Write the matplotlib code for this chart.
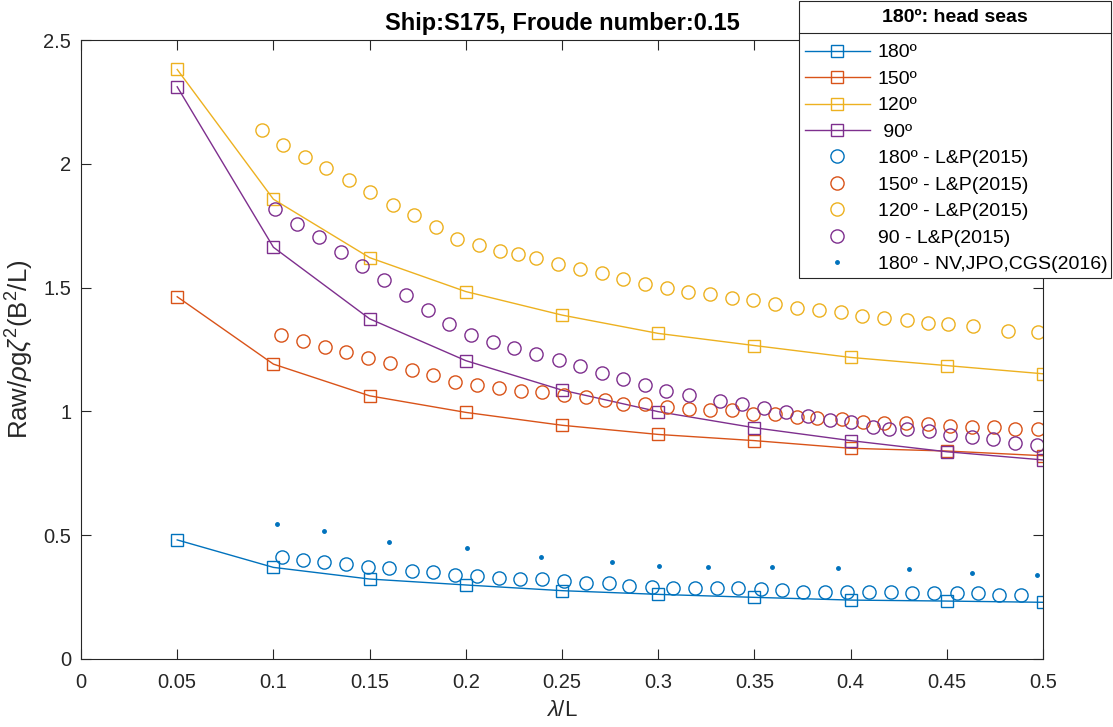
import matplotlib
matplotlib.use('Agg')
import matplotlib.pyplot as plt
from matplotlib.lines import Line2D
from matplotlib.patches import Rectangle

plt.rcParams['font.family'] = ['Liberation Sans', 'DejaVu Sans']
plt.rcParams['mathtext.fontset'] = 'custom'
plt.rcParams['mathtext.rm'] = 'Liberation Sans'
plt.rcParams['mathtext.it'] = 'Liberation Sans:italic'

# wave length ratio for the computed results
lam = [0.05, 0.1, 0.15, 0.2, 0.25, 0.3, 0.35, 0.4, 0.45, 0.5]
raw_180 = [0.481, 0.370, 0.323, 0.299, 0.276, 0.261, 0.249, 0.238, 0.234, 0.229]
raw_150 = [1.463, 1.191, 1.063, 0.996, 0.944, 0.907, 0.882, 0.851, 0.840, 0.821]
raw_120 = [2.381, 1.857, 1.621, 1.484, 1.389, 1.315, 1.266, 1.218, 1.185, 1.152]
raw_90 = [2.311, 1.663, 1.374, 1.205, 1.086, 0.999, 0.934, 0.882, 0.837, 0.804]

# L&P (2015)
lp180_x = [0.1043, 0.1152, 0.1265, 0.1377, 0.1493, 0.1602, 0.1719, 0.1831, 0.1944, 0.2057,
           0.2173, 0.2282, 0.2394, 0.2510, 0.2623, 0.2743, 0.2850, 0.2966, 0.3075, 0.3191,
           0.3304, 0.3416, 0.3533, 0.3642, 0.3754, 0.3867, 0.3983, 0.4094, 0.4208, 0.4321,
           0.4435, 0.4551, 0.4664, 0.4773, 0.4886]
lp180_y = [0.413, 0.400, 0.393, 0.384, 0.373, 0.366, 0.355, 0.350, 0.339, 0.336,
           0.326, 0.323, 0.323, 0.315, 0.306, 0.307, 0.296, 0.290, 0.288, 0.288,
           0.288, 0.288, 0.283, 0.279, 0.272, 0.272, 0.269, 0.272, 0.272, 0.268,
           0.265, 0.268, 0.265, 0.258, 0.258]

lp150_x = [0.1040, 0.1152, 0.1267, 0.1379, 0.1492, 0.1606, 0.1720, 0.1831, 0.1945, 0.2060,
           0.2174, 0.2285, 0.2396, 0.2511, 0.2627, 0.2723, 0.2819, 0.2932, 0.3044, 0.3159,
           0.3271, 0.3383, 0.3495, 0.3607, 0.3721, 0.3825, 0.3953, 0.4062, 0.4176, 0.4289,
           0.4401, 0.4518, 0.4632, 0.4744, 0.4856, 0.4972]
lp150_y = [1.309, 1.286, 1.261, 1.241, 1.214, 1.194, 1.167, 1.146, 1.120, 1.107,
           1.094, 1.084, 1.080, 1.066, 1.057, 1.045, 1.031, 1.029, 1.018, 1.011,
           1.004, 1.004, 0.991, 0.990, 0.979, 0.974, 0.968, 0.957, 0.955, 0.952,
           0.948, 0.943, 0.937, 0.935, 0.930, 0.928]

lp120_x = [0.0942, 0.1050, 0.1164, 0.1275, 0.1391, 0.1502, 0.1622, 0.1733, 0.1844, 0.1954,
           0.2067, 0.2178, 0.2271, 0.2367, 0.2479, 0.2594, 0.2706, 0.2819, 0.2931, 0.3044,
           0.3156, 0.3269, 0.3385, 0.3494, 0.3609, 0.3721, 0.3837, 0.3950, 0.4061, 0.4175,
           0.4292, 0.4401, 0.4508, 0.4638, 0.4820, 0.4976]
lp120_y = [2.135, 2.077, 2.027, 1.982, 1.935, 1.885, 1.835, 1.794, 1.746, 1.696,
           1.672, 1.649, 1.636, 1.618, 1.595, 1.576, 1.558, 1.534, 1.515, 1.497,
           1.483, 1.474, 1.457, 1.450, 1.434, 1.419, 1.410, 1.400, 1.385, 1.378,
           1.369, 1.358, 1.352, 1.346, 1.326, 1.319]

lp90_x = [0.1008, 0.1121, 0.1235, 0.1349, 0.1462, 0.1574, 0.1688, 0.1801, 0.1913, 0.2025,
          0.2140, 0.2252, 0.2365, 0.2484, 0.2595, 0.2706, 0.2819, 0.2931, 0.3043, 0.3159,
          0.3323, 0.3435, 0.3551, 0.3663, 0.3777, 0.3891, 0.4004, 0.4115, 0.4201, 0.4293,
          0.4405, 0.4519, 0.4630, 0.4741, 0.4857, 0.4969]
lp90_y = [1.816, 1.757, 1.703, 1.645, 1.586, 1.531, 1.471, 1.411, 1.354, 1.309,
          1.282, 1.256, 1.231, 1.206, 1.184, 1.154, 1.130, 1.105, 1.083, 1.067,
          1.044, 1.031, 1.013, 0.997, 0.981, 0.966, 0.956, 0.936, 0.928, 0.928,
          0.919, 0.905, 0.897, 0.887, 0.874, 0.863]

# NV, JPO, CGS (2016), head seas
nv_x = [0.1017, 0.1265, 0.1601, 0.2005, 0.2391, 0.2758, 0.3006, 0.3260, 0.3590, 0.3936,
        0.4305, 0.4629, 0.4970]
nv_y = [0.545, 0.516, 0.474, 0.450, 0.412, 0.392, 0.377, 0.373, 0.373, 0.369,
        0.363, 0.347, 0.338]

blue = '#0072BD'
orange = '#D95319'
yellow = '#EDB120'
purple = '#7E2F8E'
dark = '#262626'

W, H = 1113, 727
fig = plt.figure(figsize=(W/100, H/100), dpi=100)
ax = fig.add_axes([81/W, 1 - 659/H, (1043 - 81)/W, (659 - 40)/H])

sq = dict(marker='s', markersize=8, markerfacecolor='none', markeredgewidth=1.0, linewidth=1.0)
h1, = ax.plot(lam, raw_180, color=blue, label='180º', **sq)
h2, = ax.plot(lam, raw_150, color=orange, label='150º', **sq)
h3, = ax.plot(lam, raw_120, color=yellow, label='120º', **sq)
h4, = ax.plot(lam, raw_90, color=purple, label=' 90º', **sq)

circ = dict(marker='o', markersize=9.5, markerfacecolor='none', markeredgewidth=1.0, linestyle='none')
h5, = ax.plot(lp180_x, lp180_y, color=blue, label='180º - L&P(2015)', **circ)
h6, = ax.plot(lp150_x, lp150_y, color=orange, label='150º - L&P(2015)', **circ)
h7, = ax.plot(lp120_x, lp120_y, color=yellow, label='120º - L&P(2015)', **circ)
h8, = ax.plot(lp90_x, lp90_y, color=purple, label='90 - L&P(2015)', **circ)
h9, = ax.plot(nv_x, nv_y, '.', color=blue, markersize=5, label='180º - NV,JPO,CGS(2016)')

ax.set_xlim(0, 0.5)
ax.set_ylim(0, 2.5)
ax.set_xticks([0, 0.05, 0.1, 0.15, 0.2, 0.25, 0.3, 0.35, 0.4, 0.45, 0.5])
ax.set_xticklabels(['0', '0.05', '0.1', '0.15', '0.2', '0.25', '0.3', '0.35', '0.4', '0.45', '0.5'])
ax.set_yticks([0, 0.5, 1, 1.5, 2, 2.5])
ax.set_yticklabels(['0', '0.5', '1', '1.5', '2', '2.5'])
ax.tick_params(direction='in', length=7, width=0.8, top=True, right=True,
               labelsize=14.5, colors=dark)
ax.tick_params(axis='x', pad=10)
ax.tick_params(axis='y', pad=7)
for s in ax.spines.values():
    s.set_color(dark)
    s.set_linewidth(0.8)

ax.set_xlabel(r'$\lambda$/L', fontsize=16, color=dark, labelpad=6)
ax.set_ylabel(r'Raw/$\rho$g$\zeta^2$(B$^2$/L)', fontsize=18.5, color=dark, labelpad=5)
ax.set_title('Ship:S175, Froude number:0.15', fontsize=17, fontweight='bold', pad=7)

# legend box with separated title, like the matlab one
fig.add_artist(Rectangle((799/W, 1 - 278/H), (1111 - 799)/W, 277/H, transform=fig.transFigure,
                         facecolor='white', edgecolor=dark, linewidth=0.8, zorder=3))
fig.add_artist(Line2D([799/W, 1111/W], [1 - 33/H, 1 - 33/H], color=dark, linewidth=0.8, zorder=4))
fig.text(955/W, 1 - 17/H, '180º: head seas', fontsize=14, fontweight='bold',
         ha='center', va='center', zorder=6)

leg = fig.legend(handles=[h1, h2, h3, h4, h5, h6, h7, h8, h9], loc='upper left',
                 bbox_to_anchor=(799/W, 1 - 38/H), borderaxespad=0, fontsize=14,
                 frameon=False, handlelength=3.35, handletextpad=0.4,
                 labelspacing=0.455, borderpad=0.3)
leg.set_zorder(6)

fig.savefig('out.png', dpi=100)
